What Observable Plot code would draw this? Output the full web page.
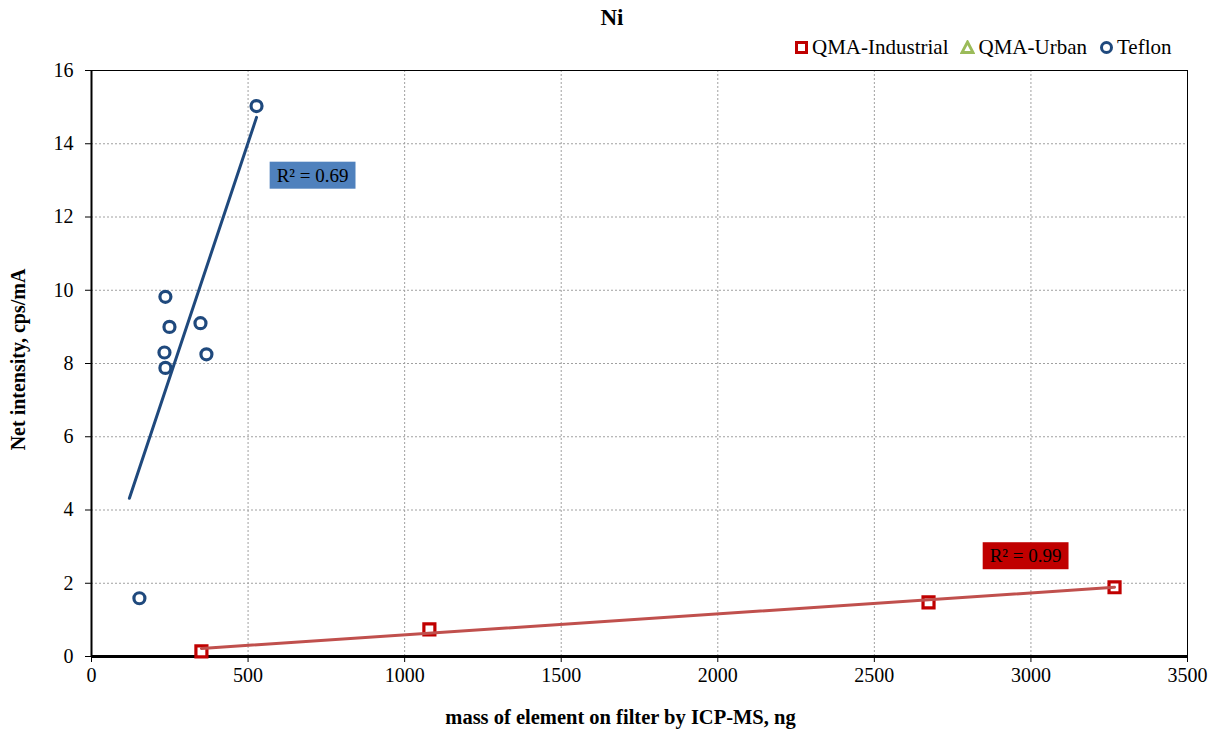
<!DOCTYPE html>
<html><head><meta charset="utf-8">
<script src="https://cdn.jsdelivr.net/npm/d3@7"></script>
<script src="https://cdn.jsdelivr.net/npm/@observablehq/plot@0.6"></script>
<style>
body{margin:0;background:#fff;font-family:"Liberation Serif","Times New Roman",serif;}
#wrap{position:relative;width:1224px;height:731px;overflow:hidden;}
#title{position:absolute;left:0;width:1224px;top:6px;text-align:center;font-weight:bold;font-size:23px;line-height:24px;}
#legend{position:absolute;left:794px;top:35px;display:flex;align-items:center;font-size:21px;line-height:24px;white-space:nowrap;}
#legend .item{display:flex;align-items:center;margin-right:12px;}
#legend svg{margin-right:3px;}
#chart{position:absolute;left:0;top:60px;}
</style></head><body>
<div id="wrap"><div id="title">Ni</div><div id="legend"></div><div id="chart"></div></div>
<script>
// ---- data ----
const teflonX = [527, 236, 249, 348, 233, 367, 236, 153];
const teflonY = [15.03, 9.82, 9.0, 9.1, 8.3, 8.25, 7.88, 1.59];
const qmaIndX = [351, 1079, 2673, 3267];
const qmaIndY = [0.14, 0.74, 1.48, 1.89];
const teflonTrendX = [121, 527];
const teflonTrendY = [4.32, 14.72];
const qmaTrendX = [351, 3267];
const qmaTrendY = [0.22, 1.89];
const seriesNames = ["QMA-Industrial", "QMA-Urban", "Teflon"];
const seriesColors = ["#C00000", "#9BBB59", "#1F497D"];
const trendColors = ["#C0504D", "#1F497D"];
const r2Text = ["R² = 0.69", "R² = 0.99"];
const r2X = [706, 2983];
const r2Y = [13.13, 2.74];
const r2Fill = ["#4F81BD", "#C00000"];
const xTicks = [0, 500, 1000, 1500, 2000, 2500, 3000, 3500];
const yTicks = [0, 2, 4, 6, 8, 10, 12, 14, 16];
const xLabel = "mass of element on filter by ICP-MS, ng";
const yLabel = "Net intensity, cps/mA";

// ---- tables ----
const teflon = teflonX.map((x, i) => ({x, y: teflonY[i]}));
const qmaInd = qmaIndX.map((x, i) => ({x, y: qmaIndY[i]}));
const teflonTrend = teflonTrendX.map((x, i) => ({x, y: teflonTrendY[i]}));
const qmaTrend = qmaTrendX.map((x, i) => ({x, y: qmaTrendY[i]}));
const r2 = r2Text.map((t, i) => ({t, x: r2X[i], y: r2Y[i], fill: r2Fill[i]}));

const chart = Plot.plot({
  width: 1224, height: 671,
  marginLeft: 91, marginRight: 37, marginTop: 10, marginBottom: 75,
  style: {fontFamily: "'Liberation Serif','Times New Roman',serif", fontSize: "20px", color: "black", background: "white"},
  x: {domain: [0, 3500], ticks: xTicks},
  y: {domain: [0, 16], ticks: yTicks},
  marks: [
    Plot.gridX(xTicks, {stroke: "#a0a0a0", strokeOpacity: 1, strokeDasharray: "2,2"}),
    Plot.gridY(yTicks, {stroke: "#a0a0a0", strokeOpacity: 1, strokeDasharray: "2,2"}),
    Plot.frame({stroke: "black", strokeWidth: 1}),
    Plot.axisX(xTicks, {tickSize: 6, tickPadding: 5, fontSize: 20, label: null, tickFormat: d => String(d)}),
    Plot.axisY(yTicks, {tickSize: 6, tickPadding: 12, fontSize: 20, label: null, tickFormat: d => String(d)}),
    Plot.ruleX([0], {stroke: "black", strokeWidth: 2}),
    Plot.ruleY([0], {stroke: "black", strokeWidth: 3}),
    Plot.dot(teflon, {x: "x", y: "y", r: 5.5, stroke: seriesColors[2], strokeWidth: 3.2, fill: "white"}),
    Plot.dot(qmaInd, {x: "x", y: "y", r: 6.2, symbol: "square", stroke: seriesColors[0], strokeWidth: 3.2, fill: "white"}),
    Plot.line(teflonTrend, {x: "x", y: "y", stroke: trendColors[1], strokeWidth: 3}),
    Plot.line(qmaTrend, {x: "x", y: "y", stroke: trendColors[0], strokeWidth: 3}),
    Plot.text(r2, {x: "x", y: "y", text: "t", fill: "black", fontSize: 19}),
    Plot.text([xLabel], {frameAnchor: "bottom", textAnchor: "middle", lineAnchor: "middle", dx: -19, dy: 61, text: d => d, fontWeight: "bold", fontSize: 20.5, fill: "black"}),
    Plot.text([yLabel], {frameAnchor: "left", textAnchor: "middle", lineAnchor: "middle", dx: -73, dy: -4, rotate: -90, text: d => d, fontWeight: "bold", fontSize: 20, fill: "black"})
  ]
});
document.getElementById("chart").appendChild(chart);

// background boxes behind R² labels
const svgNS = "http://www.w3.org/2000/svg";
chart.querySelectorAll("text").forEach(t => {
  const idx = r2Text.indexOf(t.textContent);
  if (idx < 0) return;
  const b = t.getBBox();
  const rect = document.createElementNS(svgNS, "rect");
  rect.setAttribute("x", b.x - 7);
  rect.setAttribute("y", b.y - 3);
  rect.setAttribute("width", b.width + 14);
  rect.setAttribute("height", b.height + 6);
  rect.setAttribute("fill", r2Fill[idx]);
  const tr = t.getAttribute("transform");
  if (tr) rect.setAttribute("transform", tr);
  t.parentNode.insertBefore(rect, t);
});

// legend
const legend = document.getElementById("legend");
const symbols = [
  c => `<rect x="2.5" y="2.5" width="10" height="10" fill="white" stroke="${c}" stroke-width="3"/>`,
  c => `<path d="M7.5,2 L13,12.5 L2,12.5 Z" fill="white" stroke="${c}" stroke-width="2.8" stroke-linejoin="miter"/>`,
  c => `<circle cx="7.5" cy="7.5" r="5" fill="white" stroke="${c}" stroke-width="3"/>`
];
seriesNames.forEach((n, i) => {
  const d = document.createElement("div");
  d.className = "item";
  d.innerHTML = `<svg width="15" height="15">${symbols[i](seriesColors[i])}</svg><span>${n}</span>`;
  legend.appendChild(d);
});
</script>
</body></html>
